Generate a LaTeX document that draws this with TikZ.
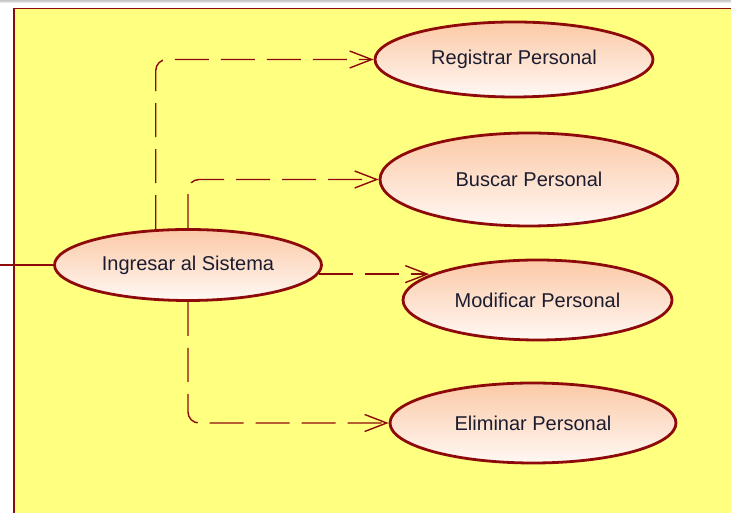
\documentclass[tikz,border=0pt]{standalone}
\usepackage{fontspec}
\setmainfont{Liberation Sans}
\usetikzlibrary{shapes.geometric,arrows.meta}
\definecolor{umlred}{HTML}{8E0A0A}
\definecolor{paneyellow}{HTML}{FFFF80}
\definecolor{peach}{HTML}{FBC9A6}
\definecolor{cream}{HTML}{FFF8F4}
\definecolor{labelink}{HTML}{1C1C30}
\tikzset{
  usecase/.style={ellipse, draw=umlred, line width=2.8pt, top color=peach,
    bottom color=cream, inner sep=0pt, text=labelink,
    font=\fontsize{20}{22}\selectfont},
  conn/.style={draw=umlred, line width=1.4pt, dash pattern=on 34pt off 12pt,
    rounded corners=11pt, -{Straight Barb[length=22pt,width=17pt,line width=1.4pt]}},
  actorline/.style={draw=umlred, line width=1.4pt}
}
\begin{document}
\begin{tikzpicture}[x=1pt,y=1pt]
  \useasboundingbox (0,0) rectangle (731,513);
  \fill[white] (0,0) rectangle (731,513);
  % window strip along the top edge
  \shade[top color=gray!45, bottom color=gray!10] (0,510) rectangle (731,513);
  % system boundary
  \filldraw[fill=paneyellow, draw=umlred, line width=1.3pt] (14,504.5) rectangle (740,-7);

  % use cases
  \node[usecase, minimum width=278pt, minimum height=75pt] (reg) at (514,453.5) {Registrar Personal};
  \node[usecase, minimum width=298pt, minimum height=93pt] (bus) at (529,333.5) {Buscar Personal};
  \node[usecase, minimum width=267pt, minimum height=71pt] (ing) at (188,248) {Ingresar al Sistema};
  \node[usecase, minimum width=269pt, minimum height=80pt] (mod) at (537.5,213) {Modificar Personal};
  \node[usecase, minimum width=286pt, minimum height=80pt] (eli) at (533,90) {Eliminar Personal};

  % actor association entering from the left
  \coordinate (actor) at (0,248);
  \draw[actorline] (actor) -- (ing.west);

  % dependencies
  \draw[conn] (ing.132) |- (reg.west);
  \draw[conn] (ing.north) |- (bus.west);
  \draw[conn] (ing.-4) -- (ing.-4 -| mod.167);
  \draw[conn] (ing.south) |- (eli.west);
\end{tikzpicture}
\end{document}
